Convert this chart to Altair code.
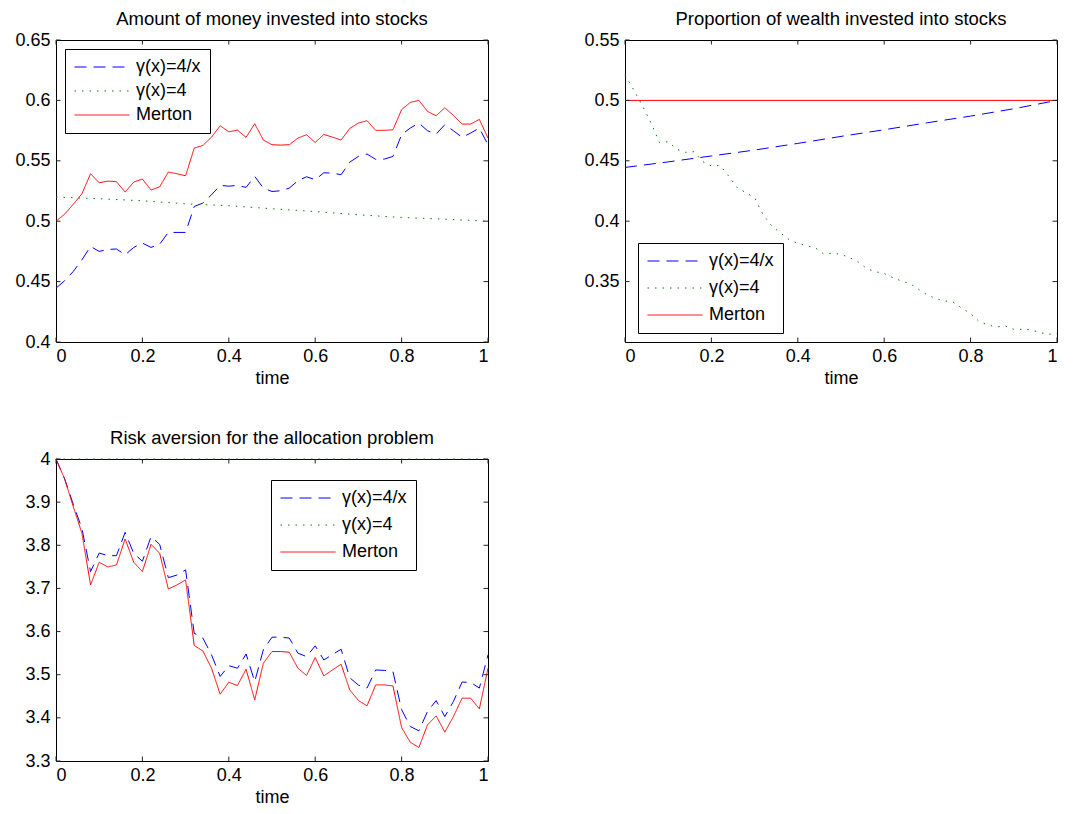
import altair as alt
import numpy as np
import pandas as pd

FONT = "Liberation Sans"
NAMES = ["γ(x)=4/x", "γ(x)=4", "Merton"]
COLORS = ["#0000ff", "#008000", "#ff0000"]
DASHES = [[12, 7], [1.5, 6], [1, 0]]

time51 = [round(i * 0.02, 2) for i in range(51)]
time11 = [round(i * 0.1, 1) for i in range(11)]
time2 = [0.0, 1.0]

# Panel 1: amount of money invested into stocks
p1_blue = [0.4446, 0.4507, 0.4584, 0.468, 0.4791, 0.475, 0.4766, 0.477, 0.4722, 0.4783, 0.4819,
           0.4783, 0.481, 0.4907, 0.4907, 0.4907, 0.5122, 0.515, 0.5219, 0.5296, 0.529, 0.5296,
           0.528, 0.5371, 0.5274, 0.5246, 0.5252, 0.5274, 0.5335, 0.5368, 0.5343, 0.5401, 0.5398,
           0.5385, 0.5489, 0.5536, 0.5556, 0.5512, 0.5514, 0.5536, 0.5716, 0.5771, 0.5812, 0.5749,
           0.5721, 0.5799, 0.5749, 0.5694, 0.573, 0.5771, 0.5633]
p1_green = [0.52, 0.5186, 0.5169, 0.5144, 0.5128, 0.5103, 0.508, 0.5053, 0.5031, 0.5017, 0.5]
p1_red = [0.5, 0.5058, 0.514, 0.5227, 0.5393, 0.5318, 0.5332, 0.5327, 0.5241, 0.5324, 0.5349,
          0.5258, 0.5285, 0.5407, 0.5393, 0.5376, 0.5605, 0.5627, 0.5696, 0.579, 0.574, 0.5754,
          0.5694, 0.5807, 0.5672, 0.5633, 0.563, 0.5633, 0.5688, 0.5716, 0.5652, 0.5718, 0.5696,
          0.5672, 0.5768, 0.5812, 0.5832, 0.5752, 0.5752, 0.5757, 0.5923, 0.5983, 0.6, 0.5909,
          0.5873, 0.5939, 0.5876, 0.5804, 0.5804, 0.5843, 0.5688]

# Panel 2: proportion of wealth invested into stocks
p2_blue = [0.4445, 0.4491, 0.454, 0.4589, 0.4644, 0.4702, 0.4757, 0.4815, 0.487, 0.4931, 0.5]
p2_green = [0.521, 0.5088, 0.4959, 0.4815, 0.465, 0.4658, 0.4595, 0.457, 0.4575, 0.4493, 0.4457,
            0.4462, 0.4374, 0.4277, 0.4236, 0.4195, 0.4051, 0.396, 0.3902, 0.3847, 0.3817, 0.3797,
            0.3781, 0.3729, 0.3734, 0.3726, 0.3698, 0.3662, 0.3607, 0.3582, 0.3566, 0.3533, 0.3505,
            0.3483, 0.3434, 0.3389, 0.3359, 0.334, 0.3329, 0.3279, 0.3235, 0.3169, 0.3141, 0.3125,
            0.3133, 0.3105, 0.3105, 0.3102, 0.3078, 0.3064, 0.307]
p2_red = [0.5, 0.5]

# Panel 3: risk aversion
p3_blue = [4.0, 3.954, 3.895, 3.839, 3.739, 3.782, 3.776, 3.776, 3.830, 3.781, 3.763, 3.820, 3.802,
           3.725, 3.731, 3.743, 3.596, 3.585, 3.546, 3.496, 3.521, 3.515, 3.548, 3.484, 3.558, 3.587,
           3.587, 3.585, 3.550, 3.542, 3.567, 3.534, 3.547, 3.559, 3.493, 3.476, 3.469, 3.511, 3.510,
           3.507, 3.419, 3.380, 3.370, 3.415, 3.440, 3.403, 3.438, 3.483, 3.482, 3.469, 3.546]
p3_green = [4.0, 4.0]
p3_red = [4.0, 3.9537, 3.8896, 3.8278, 3.7081, 3.7606, 3.7498, 3.7544, 3.8147, 3.7606, 3.739,
          3.8023, 3.7815, 3.6988, 3.7081, 3.7197, 3.5676, 3.5552, 3.5151, 3.4548, 3.4826, 3.4749,
          3.5127, 3.4417, 3.5266, 3.5537, 3.5537, 3.5521, 3.5151, 3.4981, 3.5398, 3.4973, 3.5112,
          3.5243, 3.4649, 3.4402, 3.4278, 3.4764, 3.4764, 3.4741, 3.3776, 3.3436, 3.3313, 3.3838,
          3.4046, 3.3668, 3.4031, 3.4456, 3.4456, 3.4208, 3.515]

x_ticks = [0, 0.2, 0.4, 0.6, 0.8, 1.0]
y1_ticks = [0.4, 0.45, 0.5, 0.55, 0.6, 0.65]
y2_ticks = [0.35, 0.4, 0.45, 0.5, 0.55]
y3_ticks = [3.3, 3.4, 3.5, 3.6, 3.7, 3.8, 3.9, 4.0]

W, H = 432, 302
TICK = 4.5


def frame(series):
    rows = []
    for name, ts, vs in series:
        for t, v in zip(ts, vs):
            rows.append({"t": t, "v": v, "series": name})
    return pd.DataFrame(rows)


def panel(title, series, ydomain, yticks, lx, ly, row_pad):
    df = frame(series)
    xenc = alt.X("t:Q", scale=alt.Scale(domain=[0, 1], nice=False, zero=False), title="time",
                 axis=alt.Axis(values=x_ticks, format="~g", labelPadding=5, titlePadding=4))
    yenc = alt.Y("v:Q", scale=alt.Scale(domain=ydomain, nice=False, zero=False), title=None,
                 axis=alt.Axis(values=yticks, format="~g", labelPadding=6))
    leg = alt.Legend(
        title=None, orient="none", legendX=lx, legendY=ly,
        strokeColor="black", fillColor="white", padding=9, cornerRadius=0,
        symbolType="stroke", symbolSize=3025, symbolStrokeWidth=1,
        labelFont=FONT, labelFontSize=18, labelColor="black", labelOffset=6,
        rowPadding=row_pad, clipHeight=18, labelLimit=300,
    )
    lines = alt.Chart(df).mark_line(strokeWidth=1).encode(
        x=xenc, y=yenc,
        color=alt.Color("series:N", scale=alt.Scale(domain=NAMES, range=COLORS), legend=leg),
        strokeDash=alt.StrokeDash("series:N", scale=alt.Scale(domain=NAMES, range=DASHES), legend=leg),
        order=alt.Order("t:Q"),
    )
    xt = pd.DataFrame({"t": x_ticks})
    yt = pd.DataFrame({"v": yticks})
    tick_style = dict(color="#222222", strokeWidth=1)
    xb = alt.Chart(xt).mark_rule(**tick_style).encode(
        x=xenc, y=alt.value(H), y2=alt.value(H - TICK))
    xtp = alt.Chart(xt).mark_rule(**tick_style).encode(
        x=xenc, y=alt.value(0), y2=alt.value(TICK))
    yl = alt.Chart(yt).mark_rule(**tick_style).encode(
        y=yenc, x=alt.value(0), x2=alt.value(TICK))
    yr = alt.Chart(yt).mark_rule(**tick_style).encode(
        y=yenc, x=alt.value(W - TICK), x2=alt.value(W))
    return alt.layer(lines, xb, xtp, yl, yr).properties(
        width=W, height=H,
        title=alt.TitleParams(title, font=FONT, fontSize=18.5, fontWeight="normal",
                              color="black", offset=3),
    )


p1 = panel("Amount of money invested into stocks",
           [(NAMES[0], time51, p1_blue), (NAMES[1], time11, p1_green), (NAMES[2], time51, p1_red)],
           [0.4, 0.65], y1_ticks, 9, 9, 6)
p2 = panel("Proportion of wealth invested into stocks",
           [(NAMES[0], time11, p2_blue), (NAMES[1], time51, p2_green), (NAMES[2], time2, p2_red)],
           [0.3, 0.55], y2_ticks, 13, 203, 9)
p3 = panel("Risk aversion for the allocation problem",
           [(NAMES[0], time51, p3_blue), (NAMES[1], time2, p3_green), (NAMES[2], time51, p3_red)],
           [3.3, 4.0], y3_ticks, 215, 21, 9)

chart = alt.concat(p1, p2, p3, columns=2, spacing={"row": 117, "column": 137}, bounds="flush").resolve_scale(
    color="independent", strokeDash="independent"
).resolve_legend(color="independent", strokeDash="independent").properties(
    padding={"left": 6, "top": 1, "right": 5, "bottom": 5}
).configure_view(stroke="black", strokeWidth=1).configure_axis(
    domain=False, ticks=False, grid=False,
    labelFont=FONT, labelFontSize=18, labelColor="black",
    titleFont=FONT, titleFontSize=18, titleFontWeight="normal", titleColor="black",
)

chart.save("out.html", embed_options={"renderer": "svg", "actions": False})
